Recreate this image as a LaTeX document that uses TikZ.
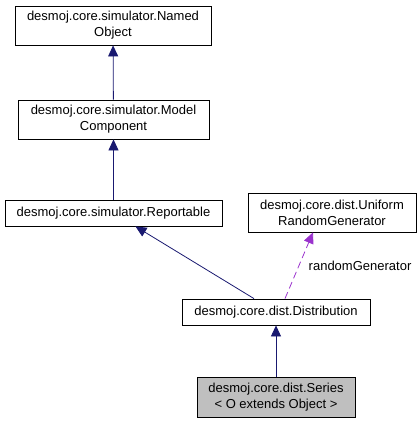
\documentclass[tikz,border=0pt]{standalone}
\usepackage{fontspec}
\setmainfont{Liberation Sans}
\usepackage{xcolor}
\usetikzlibrary{arrows.meta}
\definecolor{DoxNavy}{HTML}{191970}
\definecolor{DoxPurple}{HTML}{9A32CD}
\definecolor{DoxGray}{HTML}{BFBFBF}

\begin{document}
\begin{tikzpicture}[x=1pt, y=-1pt,
    cls/.style={draw, thick, rectangle, inner sep=0pt, align=center,
        font=\fontsize{13}{16}\selectfont},
    inherit/.style={DoxNavy, thick, -{Triangle[length=11pt, width=10pt]}},
    uses/.style={DoxPurple, thick, dash pattern=on 7pt off 4pt, -{Triangle[length=11pt, width=10pt]}}]
    \useasboundingbox (0,0) rectangle (420,424);

    % class boxes
    \node[cls, minimum width=196pt, minimum height=39pt] (named) at (113,25.5)
        {desmoj.core.simulator.Named\\Object};
    \node[cls, minimum width=191pt, minimum height=39pt] (model) at (113.5,119.5)
        {desmoj.core.simulator.Model\\Component};
    \node[cls, minimum width=217pt, minimum height=26pt] (report) at (113.5,213)
        {desmoj.core.simulator.Reportable};
    \node[cls, minimum width=168pt, minimum height=39pt] (uniform) at (332,212.5)
        {desmoj.core.dist.Uniform\\RandomGenerator};
    \node[cls, minimum width=188pt, minimum height=26pt] (distr) at (276,312)
        {desmoj.core.dist.Distribution};
    \node[cls, fill=DoxGray, minimum width=158pt, minimum height=40pt] (series) at (276,397)
        {desmoj.core.dist.Series\\\textless{} O extends Object \textgreater};

    % inheritance
    \draw[inherit] (model) -- (named);
    \draw[inherit] (report) -- (model);
    \draw[inherit] (distr) -- (report);
    \draw[inherit] (series) -- (distr);

    % usage
    \draw[uses] ([xshift=9pt]distr.north) -- ([xshift=-19pt]uniform.south)
        node[pos=0.5, right=6pt, font=\fontsize{13}{16}\selectfont, black] (rglabel) {randomGenerator};
\end{tikzpicture}
\end{document}
